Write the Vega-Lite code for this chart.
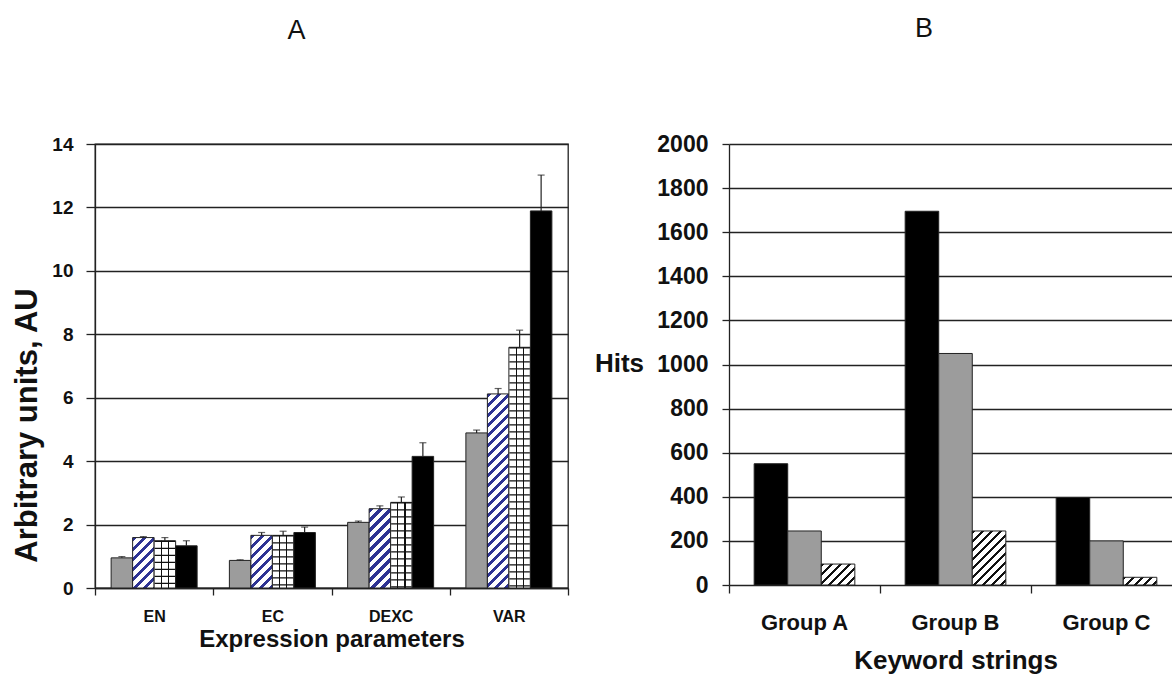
{
"$schema":"https://vega.github.io/schema/vega-lite/v6.json",
"background":"white",
"padding":{"left":10,"top":15,"right":0,"bottom":0},
"spacing":24,
"resolve":{"scale":{"xOffset":"independent"}},
"config":{
 "font":"Liberation Sans",
 "view":{"stroke":"#222","strokeWidth":1.3},
 "axis":{"labelFont":"Liberation Sans","titleFont":"Liberation Sans","labelFontWeight":"bold","titleFontWeight":"bold","labelColor":"#111","titleColor":"#111","domainColor":"#222","domainWidth":1.3,"tickColor":"#222","tickWidth":1.3,"gridColor":"#222","gridWidth":1.3,"gridOpacity":1},
 "title":{"font":"Liberation Sans","fontWeight":"normal","fontSize":27,"color":"#111","frame":"group","anchor":"middle","baseline":"alphabetic","offset":90}
},
"datasets":{
 "panelA":[
  {"param":"EN","series":"S1","value":0.95,"upper":0.99},
  {"param":"EN","series":"S2","value":1.59,"upper":1.62},
  {"param":"EN","series":"S3","value":1.49,"upper":1.59},
  {"param":"EN","series":"S4","value":1.33,"upper":1.49},
  {"param":"EC","series":"S1","value":0.87,"upper":0.89},
  {"param":"EC","series":"S2","value":1.66,"upper":1.75},
  {"param":"EC","series":"S3","value":1.66,"upper":1.79},
  {"param":"EC","series":"S4","value":1.75,"upper":1.92},
  {"param":"DEXC","series":"S1","value":2.07,"upper":2.11},
  {"param":"DEXC","series":"S2","value":2.5,"upper":2.59},
  {"param":"DEXC","series":"S3","value":2.7,"upper":2.87},
  {"param":"DEXC","series":"S4","value":4.15,"upper":4.58},
  {"param":"VAR","series":"S1","value":4.89,"upper":4.98},
  {"param":"VAR","series":"S2","value":6.12,"upper":6.29},
  {"param":"VAR","series":"S3","value":7.59,"upper":8.13},
  {"param":"VAR","series":"S4","value":11.89,"upper":13.02}
 ],
 "panelB":[
  {"group":"Group A","series":"K1","value":550},
  {"group":"Group A","series":"K2","value":245},
  {"group":"Group A","series":"K3","value":95},
  {"group":"Group B","series":"K1","value":1695},
  {"group":"Group B","series":"K2","value":1050},
  {"group":"Group B","series":"K3","value":245},
  {"group":"Group C","series":"K1","value":397},
  {"group":"Group C","series":"K2","value":200},
  {"group":"Group C","series":"K3","value":35}
 ]
},
"hconcat":[
 {
  "width":473,"height":444,
  "title":{"text":"A","dx":-35},
  "data":{"name":"panelA"},
  "encoding":{
   "x":{"field":"param","type":"nominal","sort":["EN","EC","DEXC","VAR"],"scale":{"paddingInner":0,"paddingOuter":0},
        "axis":{"title":"Expression parameters","labelAngle":0,"tickBand":"extent","grid":false,"tickSize":7,"labelFontSize":16,"labelPadding":13,"titleFontSize":24,"titleY":58,"titleBaseline":"alphabetic"}},
   "xOffset":{"field":"series","type":"nominal","sort":["S1","S2","S3","S4"],"scale":{"range":[16.125,102.125],"paddingInner":0,"paddingOuter":0}},
   "y":{"field":"value","type":"quantitative","scale":{"domain":[0,14],"nice":false},
        "axis":{"title":"Arbitrary units, AU","values":[0,2,4,6,8,10,12,14],"grid":true,"tickSize":9,"labelPadding":13,"labelFontSize":19,"titleFontSize":31,"titleAngle":270,"titleX":-68,"titleY":281,"titleAlign":"center","titleBaseline":"middle"}}
  },
  "layer":[
   {"mark":{"type":"bar","stroke":"#222","strokeWidth":1,"width":{"band":1}},
    "encoding":{"fill":{"condition":[
     {"test":"datum.series === 'S1'","value":"#9c9c9c"},
     {"test":"datum.series === 'S4'","value":"#000000"},
     {"test":"datum.series === 'S3'","value":{"gradient":"linear","x1":0,"y1":0,"x2":1,"y2":0,"stops":[{"offset":0,"color":"#ffffff"},{"offset":0.31,"color":"#ffffff"},{"offset":0.31,"color":"#111111"},{"offset":0.36,"color":"#111111"},{"offset":0.36,"color":"#ffffff"},{"offset":0.645,"color":"#ffffff"},{"offset":0.645,"color":"#111111"},{"offset":0.695,"color":"#111111"},{"offset":0.695,"color":"#ffffff"},{"offset":1,"color":"#ffffff"}]}},
     {"test":"datum.param === 'EN'","value":{"gradient":"linear","x1":0,"y1":0,"x2":0.5146,"y2":1.207,"stops":[
      {"offset":0,"color":"#2e3393"},{"offset":0.0626,"color":"#2e3393"},{"offset":0.0626,"color":"#ffffff"},{"offset":0.139,"color":"#ffffff"},
      {"offset":0.139,"color":"#2e3393"},{"offset":0.2016,"color":"#2e3393"},{"offset":0.2016,"color":"#ffffff"},{"offset":0.2781,"color":"#ffffff"},
      {"offset":0.2781,"color":"#2e3393"},{"offset":0.3406,"color":"#2e3393"},{"offset":0.3406,"color":"#ffffff"},{"offset":0.4171,"color":"#ffffff"},
      {"offset":0.4171,"color":"#2e3393"},{"offset":0.4797,"color":"#2e3393"},{"offset":0.4797,"color":"#ffffff"},{"offset":0.5561,"color":"#ffffff"},
      {"offset":0.5561,"color":"#2e3393"},{"offset":0.6187,"color":"#2e3393"},{"offset":0.6187,"color":"#ffffff"},{"offset":0.6952,"color":"#ffffff"},
      {"offset":0.6952,"color":"#2e3393"},{"offset":0.7577,"color":"#2e3393"},{"offset":0.7577,"color":"#ffffff"},{"offset":0.8342,"color":"#ffffff"},
      {"offset":0.8342,"color":"#2e3393"},{"offset":0.8967,"color":"#2e3393"},{"offset":0.8967,"color":"#ffffff"},{"offset":0.9732,"color":"#ffffff"},
      {"offset":0.9732,"color":"#2e3393"},{"offset":1,"color":"#2e3393"}]}},
     {"test":"datum.param === 'EC'","value":{"gradient":"linear","x1":0,"y1":0,"x2":0.4929,"y2":1.2071,"stops":[
      {"offset":0,"color":"#2e3393"},{"offset":0.0607,"color":"#2e3393"},{"offset":0.0607,"color":"#ffffff"},{"offset":0.1349,"color":"#ffffff"},
      {"offset":0.1349,"color":"#2e3393"},{"offset":0.1955,"color":"#2e3393"},{"offset":0.1955,"color":"#ffffff"},{"offset":0.2697,"color":"#ffffff"},
      {"offset":0.2697,"color":"#2e3393"},{"offset":0.3304,"color":"#2e3393"},{"offset":0.3304,"color":"#ffffff"},{"offset":0.4046,"color":"#ffffff"},
      {"offset":0.4046,"color":"#2e3393"},{"offset":0.4653,"color":"#2e3393"},{"offset":0.4653,"color":"#ffffff"},{"offset":0.5394,"color":"#ffffff"},
      {"offset":0.5394,"color":"#2e3393"},{"offset":0.6001,"color":"#2e3393"},{"offset":0.6001,"color":"#ffffff"},{"offset":0.6743,"color":"#ffffff"},
      {"offset":0.6743,"color":"#2e3393"},{"offset":0.735,"color":"#2e3393"},{"offset":0.735,"color":"#ffffff"},{"offset":0.8092,"color":"#ffffff"},
      {"offset":0.8092,"color":"#2e3393"},{"offset":0.8698,"color":"#2e3393"},{"offset":0.8698,"color":"#ffffff"},{"offset":0.944,"color":"#ffffff"},
      {"offset":0.944,"color":"#2e3393"},{"offset":1,"color":"#2e3393"}]}},
     {"test":"datum.param === 'DEXC'","value":{"gradient":"linear","x1":0,"y1":0,"x2":0.3211,"y2":1.1841,"stops":[
      {"offset":0,"color":"#2e3393"},{"offset":0.0446,"color":"#2e3393"},{"offset":0.0446,"color":"#ffffff"},{"offset":0.0992,"color":"#ffffff"},
      {"offset":0.0992,"color":"#2e3393"},{"offset":0.1439,"color":"#2e3393"},{"offset":0.1439,"color":"#ffffff"},{"offset":0.1984,"color":"#ffffff"},
      {"offset":0.1984,"color":"#2e3393"},{"offset":0.2431,"color":"#2e3393"},{"offset":0.2431,"color":"#ffffff"},{"offset":0.2976,"color":"#ffffff"},
      {"offset":0.2976,"color":"#2e3393"},{"offset":0.3423,"color":"#2e3393"},{"offset":0.3423,"color":"#ffffff"},{"offset":0.3969,"color":"#ffffff"},
      {"offset":0.3969,"color":"#2e3393"},{"offset":0.4415,"color":"#2e3393"},{"offset":0.4415,"color":"#ffffff"},{"offset":0.4961,"color":"#ffffff"},
      {"offset":0.4961,"color":"#2e3393"},{"offset":0.5407,"color":"#2e3393"},{"offset":0.5407,"color":"#ffffff"},{"offset":0.5953,"color":"#ffffff"},
      {"offset":0.5953,"color":"#2e3393"},{"offset":0.6399,"color":"#2e3393"},{"offset":0.6399,"color":"#ffffff"},{"offset":0.6945,"color":"#ffffff"},
      {"offset":0.6945,"color":"#2e3393"},{"offset":0.7392,"color":"#2e3393"},{"offset":0.7392,"color":"#ffffff"},{"offset":0.7937,"color":"#ffffff"},
      {"offset":0.7937,"color":"#2e3393"},{"offset":0.8384,"color":"#2e3393"},{"offset":0.8384,"color":"#ffffff"},{"offset":0.8929,"color":"#ffffff"},
      {"offset":0.8929,"color":"#2e3393"},{"offset":0.9376,"color":"#2e3393"},{"offset":0.9376,"color":"#ffffff"},{"offset":0.9922,"color":"#ffffff"},
      {"offset":0.9922,"color":"#2e3393"},{"offset":1,"color":"#2e3393"}]}}
    ],
    "value":{"gradient":"linear","x1":0,"y1":0,"x2":0.1216,"y2":1.0973,"stops":[
      {"offset":0,"color":"#2e3393"},{"offset":0.0209,"color":"#2e3393"},{"offset":0.0209,"color":"#ffffff"},{"offset":0.0464,"color":"#ffffff"},
      {"offset":0.0464,"color":"#2e3393"},{"offset":0.0673,"color":"#2e3393"},{"offset":0.0673,"color":"#ffffff"},{"offset":0.0928,"color":"#ffffff"},
      {"offset":0.0928,"color":"#2e3393"},{"offset":0.1136,"color":"#2e3393"},{"offset":0.1136,"color":"#ffffff"},{"offset":0.1392,"color":"#ffffff"},
      {"offset":0.1392,"color":"#2e3393"},{"offset":0.16,"color":"#2e3393"},{"offset":0.16,"color":"#ffffff"},{"offset":0.1855,"color":"#ffffff"},
      {"offset":0.1855,"color":"#2e3393"},{"offset":0.2064,"color":"#2e3393"},{"offset":0.2064,"color":"#ffffff"},{"offset":0.2319,"color":"#ffffff"},
      {"offset":0.2319,"color":"#2e3393"},{"offset":0.2528,"color":"#2e3393"},{"offset":0.2528,"color":"#ffffff"},{"offset":0.2783,"color":"#ffffff"},
      {"offset":0.2783,"color":"#2e3393"},{"offset":0.2992,"color":"#2e3393"},{"offset":0.2992,"color":"#ffffff"},{"offset":0.3247,"color":"#ffffff"},
      {"offset":0.3247,"color":"#2e3393"},{"offset":0.3456,"color":"#2e3393"},{"offset":0.3456,"color":"#ffffff"},{"offset":0.3711,"color":"#ffffff"},
      {"offset":0.3711,"color":"#2e3393"},{"offset":0.3919,"color":"#2e3393"},{"offset":0.3919,"color":"#ffffff"},{"offset":0.4175,"color":"#ffffff"},
      {"offset":0.4175,"color":"#2e3393"},{"offset":0.4383,"color":"#2e3393"},{"offset":0.4383,"color":"#ffffff"},{"offset":0.4638,"color":"#ffffff"},
      {"offset":0.4638,"color":"#2e3393"},{"offset":0.4847,"color":"#2e3393"},{"offset":0.4847,"color":"#ffffff"},{"offset":0.5102,"color":"#ffffff"},
      {"offset":0.5102,"color":"#2e3393"},{"offset":0.5311,"color":"#2e3393"},{"offset":0.5311,"color":"#ffffff"},{"offset":0.5566,"color":"#ffffff"},
      {"offset":0.5566,"color":"#2e3393"},{"offset":0.5775,"color":"#2e3393"},{"offset":0.5775,"color":"#ffffff"},{"offset":0.603,"color":"#ffffff"},
      {"offset":0.603,"color":"#2e3393"},{"offset":0.6239,"color":"#2e3393"},{"offset":0.6239,"color":"#ffffff"},{"offset":0.6494,"color":"#ffffff"},
      {"offset":0.6494,"color":"#2e3393"},{"offset":0.6702,"color":"#2e3393"},{"offset":0.6702,"color":"#ffffff"},{"offset":0.6958,"color":"#ffffff"},
      {"offset":0.6958,"color":"#2e3393"},{"offset":0.7166,"color":"#2e3393"},{"offset":0.7166,"color":"#ffffff"},{"offset":0.7421,"color":"#ffffff"},
      {"offset":0.7421,"color":"#2e3393"},{"offset":0.763,"color":"#2e3393"},{"offset":0.763,"color":"#ffffff"},{"offset":0.7885,"color":"#ffffff"},
      {"offset":0.7885,"color":"#2e3393"},{"offset":0.8094,"color":"#2e3393"},{"offset":0.8094,"color":"#ffffff"},{"offset":0.8349,"color":"#ffffff"},
      {"offset":0.8349,"color":"#2e3393"},{"offset":0.8558,"color":"#2e3393"},{"offset":0.8558,"color":"#ffffff"},{"offset":0.8813,"color":"#ffffff"},
      {"offset":0.8813,"color":"#2e3393"},{"offset":0.9022,"color":"#2e3393"},{"offset":0.9022,"color":"#ffffff"},{"offset":0.9277,"color":"#ffffff"},
      {"offset":0.9277,"color":"#2e3393"},{"offset":0.9486,"color":"#2e3393"},{"offset":0.9486,"color":"#ffffff"},{"offset":0.9741,"color":"#ffffff"},
      {"offset":0.9741,"color":"#2e3393"},{"offset":0.9949,"color":"#2e3393"},{"offset":0.9949,"color":"#ffffff"},{"offset":1,"color":"#ffffff"}]}
    }}},
   {"transform":[{"filter":"datum.series === 'S3'"}],
    "mark":{"type":"rule","color":"#111111","strokeWidth":20.5,"strokeDash":[1.2,5.8]},
    "encoding":{"y2":{"datum":0}}},
   {"mark":{"type":"rule","color":"#222222","strokeWidth":1.2},
    "encoding":{"y2":{"field":"upper"}}},
   {"mark":{"type":"tick","color":"#222222","size":7,"thickness":1.2},
    "encoding":{"y":{"field":"upper","type":"quantitative","title":"Arbitrary units, AU","scale":{"domain":[0,14],"nice":false}}}}
  ]
 },
 {
  "width":444,"height":441,
  "title":{"text":"B","dx":-27},
  "view":{"stroke":null},
  "data":{"name":"panelB"},
  "mark":{"type":"bar","stroke":"#222","strokeWidth":1,"width":{"band":1}},
  "encoding":{
   "x":{"field":"group","type":"nominal","sort":["Group A","Group B","Group C"],"scale":{"range":[0,453],"paddingInner":0,"paddingOuter":0},
        "axis":{"title":"Keyword strings","labelAngle":0,"bandPosition":0,"domain":false,"grid":false,"tickSize":8,"labelFontSize":22,"labelPadding":19,"titleFontSize":26,"titleY":83.6,"titleBaseline":"alphabetic"}},
   "xOffset":{"field":"series","type":"nominal","sort":["K1","K2","K3"],"scale":{"range":[25.17,125.83],"paddingInner":0,"paddingOuter":0}},
   "y":{"field":"value","type":"quantitative","scale":{"domain":[0,2000],"nice":false},
        "axis":{"title":"Hits","format":"d","values":[0,200,400,600,800,1000,1200,1400,1600,1800,2000],"grid":true,"tickSize":7,"labelPadding":14,"labelFontSize":23,"titleFontSize":26,"titleAngle":0,"titleX":-110,"titleY":219.5,"titleAlign":"center","titleBaseline":"middle"}},
   "fill":{"condition":[
     {"test":"datum.series === 'K1'","value":"#000000"},
     {"test":"datum.series === 'K2'","value":"#9c9c9c"},
     {"test":"datum.group === 'Group A'","value":{"gradient":"linear","x1":0,"y1":0,"x2":1.1689,"y2":0.7298,"stops":[
      {"offset":0,"color":"#111111"},{"offset":0.055,"color":"#111111"},{"offset":0.055,"color":"#ffffff"},{"offset":0.1651,"color":"#ffffff"},
      {"offset":0.1651,"color":"#111111"},{"offset":0.2201,"color":"#111111"},{"offset":0.2201,"color":"#ffffff"},{"offset":0.3302,"color":"#ffffff"},
      {"offset":0.3302,"color":"#111111"},{"offset":0.3853,"color":"#111111"},{"offset":0.3853,"color":"#ffffff"},{"offset":0.4953,"color":"#ffffff"},
      {"offset":0.4953,"color":"#111111"},{"offset":0.5504,"color":"#111111"},{"offset":0.5504,"color":"#ffffff"},{"offset":0.6604,"color":"#ffffff"},
      {"offset":0.6604,"color":"#111111"},{"offset":0.7155,"color":"#111111"},{"offset":0.7155,"color":"#ffffff"},{"offset":0.8256,"color":"#ffffff"},
      {"offset":0.8256,"color":"#111111"},{"offset":0.8806,"color":"#111111"},{"offset":0.8806,"color":"#ffffff"},{"offset":0.9907,"color":"#ffffff"},
      {"offset":0.9907,"color":"#111111"},{"offset":1,"color":"#111111"}]}},
     {"test":"datum.group === 'Group B'","value":{"gradient":"linear","x1":0,"y1":0,"x2":0.7267,"y2":1.1699,"stops":[
      {"offset":0,"color":"#111111"},{"offset":0.0343,"color":"#111111"},{"offset":0.0343,"color":"#ffffff"},{"offset":0.1028,"color":"#ffffff"},
      {"offset":0.1028,"color":"#111111"},{"offset":0.137,"color":"#111111"},{"offset":0.137,"color":"#ffffff"},{"offset":0.2055,"color":"#ffffff"},
      {"offset":0.2055,"color":"#111111"},{"offset":0.2398,"color":"#111111"},{"offset":0.2398,"color":"#ffffff"},{"offset":0.3083,"color":"#ffffff"},
      {"offset":0.3083,"color":"#111111"},{"offset":0.3426,"color":"#111111"},{"offset":0.3426,"color":"#ffffff"},{"offset":0.411,"color":"#ffffff"},
      {"offset":0.411,"color":"#111111"},{"offset":0.4453,"color":"#111111"},{"offset":0.4453,"color":"#ffffff"},{"offset":0.5138,"color":"#ffffff"},
      {"offset":0.5138,"color":"#111111"},{"offset":0.5481,"color":"#111111"},{"offset":0.5481,"color":"#ffffff"},{"offset":0.6166,"color":"#ffffff"},
      {"offset":0.6166,"color":"#111111"},{"offset":0.6508,"color":"#111111"},{"offset":0.6508,"color":"#ffffff"},{"offset":0.7193,"color":"#ffffff"},
      {"offset":0.7193,"color":"#111111"},{"offset":0.7536,"color":"#111111"},{"offset":0.7536,"color":"#ffffff"},{"offset":0.8221,"color":"#ffffff"},
      {"offset":0.8221,"color":"#111111"},{"offset":0.8563,"color":"#111111"},{"offset":0.8563,"color":"#ffffff"},{"offset":0.9248,"color":"#ffffff"},
      {"offset":0.9248,"color":"#111111"},{"offset":0.9591,"color":"#111111"},{"offset":0.9591,"color":"#ffffff"},{"offset":1,"color":"#ffffff"}]}}
    ],
    "value":{"gradient":"linear","x1":0,"y1":0,"x2":1.1684,"y2":0.2688,"stops":[
      {"offset":0,"color":"#111111"},{"offset":0.0727,"color":"#111111"},{"offset":0.0727,"color":"#ffffff"},{"offset":0.218,"color":"#ffffff"},
      {"offset":0.218,"color":"#111111"},{"offset":0.2907,"color":"#111111"},{"offset":0.2907,"color":"#ffffff"},{"offset":0.4361,"color":"#ffffff"},
      {"offset":0.4361,"color":"#111111"},{"offset":0.5088,"color":"#111111"},{"offset":0.5088,"color":"#ffffff"},{"offset":0.6541,"color":"#ffffff"},
      {"offset":0.6541,"color":"#111111"},{"offset":0.7268,"color":"#111111"},{"offset":0.7268,"color":"#ffffff"},{"offset":0.8721,"color":"#ffffff"},
      {"offset":0.8721,"color":"#111111"},{"offset":0.9448,"color":"#111111"},{"offset":0.9448,"color":"#ffffff"},{"offset":1,"color":"#ffffff"}]}
   }
  }
 }
]
}
